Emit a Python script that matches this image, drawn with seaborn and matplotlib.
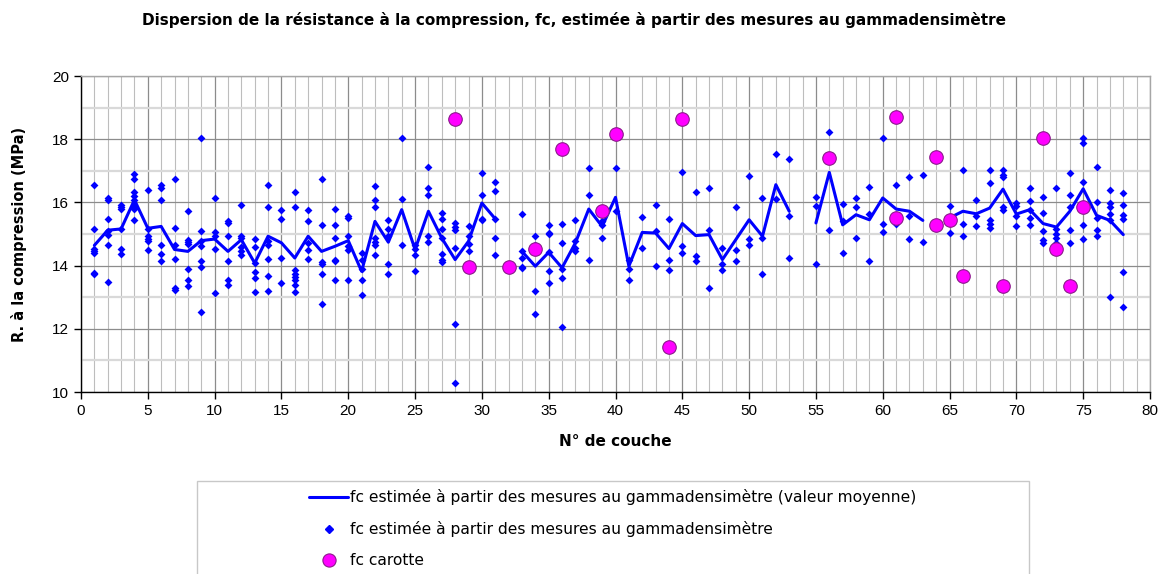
import numpy as np
import pandas as pd
import matplotlib
matplotlib.use('Agg')
import matplotlib.pyplot as plt
import seaborn as sns
from matplotlib.lines import Line2D
from matplotlib.patches import Rectangle
from matplotlib.ticker import MultipleLocator

sns.set_style('white')
plt.rcParams['font.family'] = ['Liberation Sans', 'DejaVu Sans']
plt.rcParams['text.color'] = 'black'
plt.rcParams['axes.labelcolor'] = 'black'
plt.rcParams['xtick.color'] = 'black'
plt.rcParams['ytick.color'] = 'black'

# fc estimée (gammadensimètre), valeurs individuelles par couche
couches_pts = [1, 2, 3, 4, 5, 6, 7, 8, 9, 10, 11, 12, 13, 14, 15, 16, 17, 18, 19, 20,
               21, 22, 23, 24, 25, 26, 27, 28, 29, 30, 31, 33, 34, 35, 36, 37, 38, 39, 40,
               41, 42, 43, 44, 45, 46, 47, 48, 49, 50, 51, 52, 53, 55, 56, 57, 58, 59, 60,
               61, 62, 63, 65, 66, 67, 68, 69, 70, 71, 72, 73, 74, 75, 76, 77, 78]
fc_gamma = [
    [16.56, 15.17, 14.51, 14.45, 14.40, 13.77, 13.73],
    [16.14, 16.08, 15.48, 15.11, 14.98, 14.64, 13.48],
    [15.93, 15.87, 15.79, 15.17, 14.54, 14.37],
    [16.89, 16.74, 16.33, 16.21, 16.08, 15.89, 15.79, 15.44],
    [16.40, 15.17, 14.95, 14.84, 14.77, 14.48],
    [16.56, 16.45, 16.08, 14.64, 14.37, 14.13],
    [16.74, 15.20, 14.64, 14.20, 13.29, 13.22],
    [15.72, 14.80, 14.74, 14.68, 13.88, 13.53, 13.37],
    [18.03, 15.08, 14.77, 14.61, 14.13, 13.96, 12.53],
    [16.13, 15.05, 14.95, 14.53, 13.13],
    [15.42, 15.35, 14.93, 14.13, 13.54, 13.40],
    [15.93, 14.93, 14.87, 14.59, 14.45, 14.33],
    [14.85, 14.59, 14.08, 13.81, 13.60, 13.16],
    [16.56, 15.85, 14.77, 14.64, 14.20, 13.68, 13.21],
    [15.77, 15.48, 14.24, 13.45],
    [16.33, 15.85, 13.87, 13.75, 13.64, 13.56, 13.40, 13.16],
    [15.77, 15.40, 14.72, 14.48, 14.20],
    [16.74, 15.29, 14.12, 14.05, 13.74, 12.77],
    [15.80, 15.28, 14.87, 14.19, 14.13, 13.53],
    [15.58, 15.50, 14.95, 14.61, 14.48, 13.56],
    [14.40, 14.17, 13.89, 13.56, 13.08],
    [16.53, 16.08, 15.87, 14.87, 14.74, 14.66, 14.33],
    [15.45, 15.16, 14.95, 14.05, 13.72],
    [18.03, 16.12, 14.64],
    [14.66, 14.54, 14.33, 13.84],
    [17.12, 16.44, 16.22, 14.95, 14.74],
    [15.66, 15.48, 15.16, 14.87, 14.37, 14.19, 14.11],
    [15.35, 15.22, 15.14, 14.56, 12.16, 10.30],
    [15.24, 14.93, 14.68, 14.47],
    [16.93, 16.24, 15.48, 15.45],
    [16.64, 16.37, 15.48, 14.87, 14.33],
    [15.64, 14.45, 14.24, 13.96, 13.93],
    [14.93, 14.64, 13.21, 12.48],
    [15.29, 15.03, 15.00, 14.42, 13.84, 13.44],
    [15.33, 14.73, 13.89, 13.60, 12.05],
    [15.45, 14.77, 14.56, 14.47],
    [17.08, 16.24, 14.17],
    [15.40, 15.30, 14.87],
    [17.08, 15.72],
    [14.19, 13.89, 13.53],
    [15.53, 14.56],
    [15.93, 15.08, 14.00],
    [15.48, 14.17, 13.87],
    [16.96, 14.61, 14.40],
    [16.33, 14.29, 14.14],
    [16.45, 15.13, 13.28],
    [14.56, 14.05, 13.87],
    [15.84, 14.48, 14.14],
    [16.84, 14.84, 14.64],
    [16.13, 14.87, 13.73],
    [17.53, 16.11],
    [17.37, 15.56, 14.24],
    [16.16, 15.89, 14.04],
    [18.24, 15.12],
    [15.96, 15.40, 14.40],
    [16.13, 15.84, 14.88],
    [16.48, 15.64, 14.16],
    [18.03, 15.33, 15.06],
    [16.56, 15.56, 15.33],
    [16.80, 15.56, 14.85],
    [16.87, 14.74],
    [15.89, 15.04],
    [17.01, 15.33, 14.93],
    [16.08, 15.56, 15.24],
    [17.01, 16.61, 15.43, 15.33, 15.19],
    [17.01, 16.87, 16.79, 15.87, 15.77],
    [15.98, 15.89, 15.56, 15.24],
    [16.45, 16.05, 15.77, 15.51, 15.29],
    [16.17, 15.68, 15.08, 14.82, 14.73],
    [16.45, 15.16, 15.00, 14.87, 14.72],
    [16.93, 16.24, 15.85, 15.12, 14.73],
    [18.03, 17.87, 16.64, 15.29, 14.84],
    [17.13, 16.00, 15.51, 15.14, 14.93],
    [16.40, 15.98, 15.85, 15.64, 15.45, 13.01],
    [16.29, 15.93, 15.61, 15.48, 13.81, 12.68],
]

# valeur moyenne par couche (nan = pas de mesure)
couche_moy = list(range(1, 79))
fc_moy = [14.64, 15.12, 15.16, 16.08, 15.18, 15.24, 14.51, 14.45, 14.79, 14.84,
          14.45, 14.82, 14.08, 14.93, 14.72, 14.24, 14.93, 14.45, 14.61, 14.79,
          13.82, 15.40, 14.74, 15.77, 14.51, 15.72, 14.87, 14.19, 14.77, 15.98,
          15.48, np.nan, 14.45, 13.98, 14.42, 13.93, 14.72, 15.79, 15.24, 16.16,
          13.98, 15.05, 15.03, 14.54, 15.33, 14.95, 14.98, 14.19, 14.82, 15.45,
          14.93, 16.56, 15.72, np.nan, 15.35, 16.95, 15.29, 15.61, 15.45, 16.14,
          15.79, 15.72, 15.43, np.nan, 15.51, 15.72, 15.64, 15.82, 16.42, 15.63,
          15.77, 15.33, 15.22, 15.72, 16.43, 15.59, 15.43, 14.98]

# fc carotte
couche_car = [28, 29, 32, 34, 36, 39, 40, 44, 45, 56, 61, 61, 64, 64, 65, 66, 69, 72, 73, 74, 75]
fc_car = [18.63, 13.95, 13.95, 14.51, 17.69, 15.72, 18.16, 11.43, 18.63, 17.42, 18.69,
          15.52, 17.43, 15.27, 15.43, 13.66, 13.35, 18.03, 14.51, 13.35, 15.84]

BLUE = '#0000ff'
PINK = '#ff00ff'
WIDE = ['DejaVu Sans']  # Excel text renders wider than Arial here

# long-form tables
pts_x, pts_y = [], []
for c, vals in zip(couches_pts, fc_gamma):
    pts_x += [c] * len(vals)
    pts_y += vals
ptsDF = pd.DataFrame({'couche': pts_x, 'fc': pts_y})
moyDF = pd.DataFrame({'couche': couche_moy, 'fc': fc_moy})
moyDF['segment'] = moyDF['fc'].isna().cumsum()  # line breaks where no data
moyDF = moyDF.dropna()
carDF = pd.DataFrame({'couche': couche_car, 'fc': fc_car})

fig = plt.figure(figsize=(11.61, 5.74), dpi=100)
ax = fig.add_axes([81 / 1161, 1 - 392 / 574, (1150 - 81) / 1161, (392 - 76) / 574])

# grid
ax.set_xlim(0, 80)
ax.set_ylim(10, 20)
ax.xaxis.set_major_locator(MultipleLocator(5))
ax.xaxis.set_minor_locator(MultipleLocator(1))
ax.yaxis.set_major_locator(MultipleLocator(2))
ax.yaxis.set_minor_locator(MultipleLocator(1))
ax.grid(which='minor', axis='x', color='#bdbdbd', lw=0.8)
ax.grid(which='minor', axis='y', color='#d9d9d9', lw=1.6)
ax.grid(which='major', color='#8c8c8c', lw=0.9)
ax.set_axisbelow(True)

sns.lineplot(data=moyDF, x='couche', y='fc', units='segment', estimator=None,
             color=BLUE, lw=2.2, ax=ax, legend=False)
sns.scatterplot(data=ptsDF, x='couche', y='fc', marker='D', s=16, color=BLUE,
                edgecolor=BLUE, linewidth=0, ax=ax, legend=False, zorder=3)
sns.scatterplot(data=carDF, x='couche', y='fc', marker='o', s=95, color=PINK,
                edgecolor='#8b1a8b', linewidth=0.8, ax=ax, legend=False, zorder=4)

ax.set_xlim(0, 80)
ax.set_ylim(10, 20)
for s in ['left', 'bottom']:
    ax.spines[s].set_color('black')
    ax.spines[s].set_linewidth(1.0)
for s in ['top', 'right']:
    ax.spines[s].set_color('#a6a6a6')
    ax.spines[s].set_linewidth(1.0)
ax.tick_params(which='major', direction='out', length=5, width=1, color='black',
               labelcolor='black', labelsize=11, left=True, bottom=True)
ax.tick_params(which='minor', length=0)

ax.set_xlabel('N° de couche', fontsize=11, fontweight='bold', family=WIDE, labelpad=12)
ax.set_ylabel('R. à la compression (MPa)', fontsize=10.5, fontweight='bold', family=WIDE,
              labelpad=18)

fig.text(574 / 1161, 1 - 20 / 574,
         'Dispersion de la résistance à la compression, fc, estimée à partir des mesures au gammadensimètre',
         ha='center', va='center', fontsize=11, fontweight='bold', family=WIDE)

# legend box
fig.patches.append(Rectangle((197 / 1161, -0.1), (1029 - 197) / 1161, (574 - 481) / 574 + 0.1,
                             transform=fig.transFigure, fill=False, edgecolor='#c8c8c8', lw=1.0))
handles = [
    Line2D([], [], color=BLUE, lw=2.2),
    Line2D([], [], color=BLUE, marker='D', ls='none', ms=4, mec=BLUE),
    Line2D([], [], color=PINK, marker='o', ls='none', ms=9.5, mec='#8b1a8b', mew=0.8),
]
labels = [
    'fc estimée à partir des mesures au gammadensimètre (valeur moyenne)',
    'fc estimée à partir des mesures au gammadensimètre',
    'fc carotte',
]
fig.legend(handles, labels, loc='upper left', bbox_to_anchor=(303 / 1161, 1 - 483 / 574),
           frameon=False, prop={'family': WIDE, 'size': 11.2}, handlelength=2.5,
           handletextpad=0.15, labelspacing=1.02, borderaxespad=0)

plt.savefig('out.png', dpi=100)
